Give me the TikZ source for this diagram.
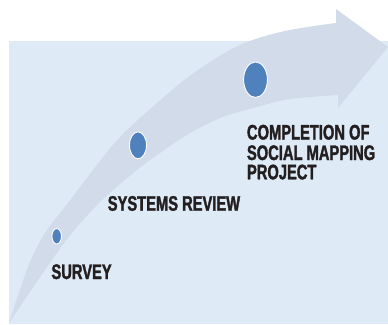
\documentclass[tikz,border=0pt]{standalone}
\usepackage{fontspec}
\setmainfont{Liberation Sans}
\newfontfamily\labelfont[FakeStretch=0.70,FakeBold=1.6,BoldFont={Liberation Sans Bold}]{Liberation Sans}
\usetikzlibrary{shapes.geometric}
\definecolor{bg}{RGB}{222,235,247}
\definecolor{arrowc}{RGB}{209,219,233}
\definecolor{dotc}{RGB}{79,129,189}
\definecolor{txt}{RGB}{35,31,32}
\begin{document}
\begin{tikzpicture}[x=1pt,y=-1pt,
  lbl/.style={anchor=base west,inner sep=0pt,outer sep=0pt,text=txt,
    font=\labelfont\bfseries\fontsize{21}{20}\selectfont},
  dotn/.style={ellipse,fill=dotc,draw=white,line width=0.9pt,inner sep=0pt}]
\useasboundingbox (0,0) rectangle (388,324);
\fill[bg] (9,41) rectangle (388,324);
\fill[arrowc] plot[smooth,tension=0.55] coordinates {(9,323) (28,267) (45,233) (68,203) (93,170) (120,137) (157,103) (195,72) (240,45) (285,31) (336,23)}
  -- (336,9) -- (388,47) -- (338,108) -- (338,95)
  -- plot[smooth,tension=0.55] coordinates {(338,95) (290,99) (257,107) (223,117) (190,133) (160,153) (137,170) (102,200) (72,233) (47,267) (9,323)} -- cycle;
\node[dotn,minimum width=9.5pt,minimum height=15.5pt] (d1) at (56.7,236.3) {};
\node[dotn,minimum width=17pt,minimum height=26.8pt] (d2) at (138,145.3) {};
\node[dotn,minimum width=23.8pt,minimum height=35.5pt] (d3) at (255.5,79.7) {};
\node[lbl] (survey) at (51.5,279) {SURVEY};
\node[lbl] (systems) at (107.8,210.7) {SYSTEMS REVIEW};
\node[lbl] (c1) at (247,139.5) {COMPLETION OF};
\node[lbl] (c2) at (247,160) {SOCIAL MAPPING};
\node[lbl] (c3) at (247,179.3) {PROJECT};
\end{tikzpicture}
\end{document}
